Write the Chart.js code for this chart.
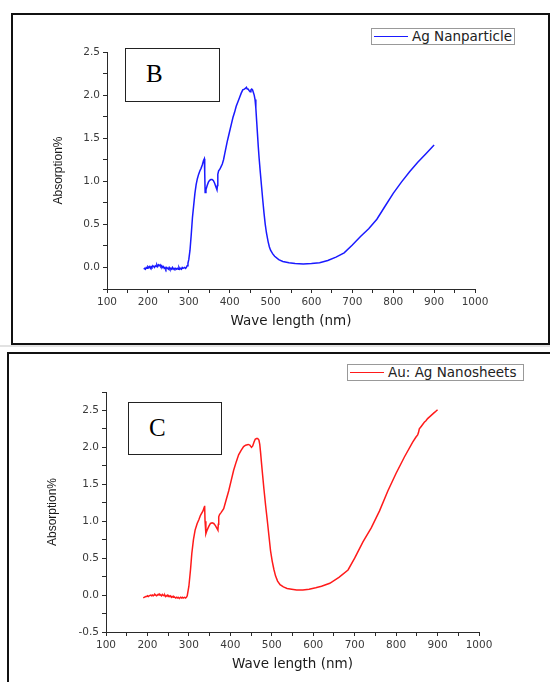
<!DOCTYPE html>
<html>
<head>
<meta charset="utf-8">
<script src="https://cdn.jsdelivr.net/npm/chart.js@4"></script>
<style>
  body { margin: 0; width: 550px; height: 682px; overflow: hidden; background: #fff; position: relative; }
  .frame { position: absolute; border: 2px solid #111; box-sizing: border-box; }
  .sep { position: absolute; left: 0; top: 345px; width: 550px; height: 2px; background: #e2e2e2; }
  canvas { position: absolute; left: 0; }
  .tag { position: absolute; border: 1px solid #222; box-sizing: border-box; background: #fff;
         font: 25px "Liberation Serif", "Times New Roman", serif; color: #000; }
  .tag span { position: absolute; left: 20px; top: 10px; line-height: 30px; }
  .legend { position: absolute; border: 1px solid #999; box-sizing: border-box; background: #fff;
            font: 13.5px "DejaVu Sans", sans-serif; color: #222; }
  .legend i { position: absolute; left: 2px; top: 7px; width: 34px; height: 1.2px; }
  .legend b { position: absolute; left: 40px; top: 0; font-weight: normal; line-height: 15px; white-space: nowrap; }
</style>
</head>
<body>
<div class="frame" style="left:11px;top:13px;width:539px;height:332px"></div>
<div class="sep"></div>
<div class="frame" style="left:7px;top:352px;width:560px;height:400px"></div>

<canvas id="agChart" width="550" height="345" style="top:0"></canvas>
<canvas id="auagChart" width="550" height="337" style="top:345px"></canvas>

<div class="tag" style="left:125px;top:48px;width:95px;height:54px"><span>B</span></div>
<div class="tag" style="left:128px;top:402px;width:94px;height:53px"><span>C</span></div>

<div class="legend" style="left:371px;top:28px;width:144px;height:17px">
  <i style="background:#1a1aff"></i><b>Ag Nanparticle</b>
</div>
<div class="legend" style="left:347px;top:364px;width:177px;height:17px">
  <i style="background:#ff1a1a"></i><b>Au: Ag Nanosheets</b>
</div>

<script>
// Ag nanoparticle spectrum
const agWavelength = [
  190, 192, 194, 196, 198, 200, 202, 204, 206, 208, 210, 212, 214, 216, 218, 220, 222, 224, 226, 228,
  230, 232, 234, 236, 238, 240, 242, 244, 246, 248, 250, 252, 254, 256, 258, 260, 262, 264, 266, 268,
  270, 272, 274, 276, 278, 280, 282, 284, 286, 288, 290, 292, 294, 296, 298,
  300, 303, 306, 309, 312, 315, 318, 321, 324, 327, 330, 333, 336, 338, 339, 340, 342, 345, 348, 351,
  354, 357, 360, 363, 366, 369, 370, 371, 373, 376, 379, 382, 385, 388, 391, 394, 397, 400, 404, 408,
  412, 416, 420, 424, 428, 432, 436, 439, 441, 443, 445, 448, 450, 452, 454, 456, 458, 460, 462, 464,
  466, 468, 470, 472, 475, 478, 481, 484, 487, 490, 494, 497, 500, 505, 510, 520, 530, 545, 560, 580,
  600, 620, 640, 660, 680, 700, 720, 740, 760, 780, 800, 820, 840, 860, 880, 900
];
const agAbsorption = [
  -0.02, -0.01, -0.02, 0.00, -0.01, 0.01, 0.00, 0.01, -0.01, 0.01, 0.00, 0.02, 0.01, 0.00, 0.02, 0.01, 0.03, 0.01, 0.03, 0.02,
  0.03, 0.01, 0.02, 0.00, 0.01, -0.01, 0.00, -0.02, 0.00, -0.01, -0.02, 0.00, -0.02, -0.01, -0.02, 0.00, -0.02, -0.01, -0.02, -0.01,
  -0.02, -0.01, -0.02, 0.00, -0.02, -0.01, -0.02, 0.00, -0.01, -0.01, 0.00, -0.01, 0.00, 0.02, 0.05,
  0.09, 0.20, 0.38, 0.58, 0.72, 0.86, 0.96, 1.03, 1.08, 1.12, 1.15, 1.19, 1.24, 1.26, 1.10, 0.87, 0.90, 0.95, 0.99, 1.01,
  1.02, 1.02, 1.01, 0.98, 0.94, 0.90, 0.95, 1.08, 1.12, 1.14, 1.17, 1.20, 1.25, 1.32, 1.39, 1.46, 1.52, 1.58, 1.66, 1.74,
  1.80, 1.87, 1.92, 1.97, 2.02, 2.06, 2.07, 2.08, 2.09, 2.07, 2.07, 2.05, 2.04, 2.06, 2.07, 2.06, 2.03, 2.00, 1.95, 1.85,
  1.70, 1.55, 1.40, 1.27, 1.10, 0.94, 0.78, 0.63, 0.50, 0.40, 0.30, 0.24, 0.20, 0.16, 0.13, 0.09, 0.07, 0.055, 0.045, 0.04,
  0.045, 0.055, 0.08, 0.12, 0.17, 0.26, 0.36, 0.45, 0.56, 0.71, 0.86, 0.99, 1.11, 1.22, 1.32, 1.42
];

// Au:Ag nanosheet spectrum
const auagWavelength = [
  190, 192, 194, 196, 198, 200, 202, 204, 206, 208, 210, 212, 214, 216, 218, 220, 222, 224, 226, 228,
  230, 232, 234, 236, 238, 240, 242, 244, 246, 248, 250, 252, 254, 256, 258, 260, 262, 264, 266, 268,
  270, 272, 274, 276, 278, 280, 282, 284, 286, 288, 290, 292, 294, 296,
  300, 304, 307, 311, 315, 320, 324, 328, 334, 337, 338, 339, 341, 344, 348, 352, 356, 360, 364, 368,
  370, 371, 372, 374, 378, 384, 390, 396, 402, 408, 414, 420, 426, 432, 437, 443, 447, 451, 454, 457,
  460, 463, 466, 469, 471, 473, 475, 478, 481, 485, 489, 493, 497, 501, 505, 509, 514, 520, 528, 537,
  548, 560, 575, 590, 606, 620, 640, 662, 684, 700, 720, 740, 760, 780, 800, 820, 840, 848, 852, 854,
  856, 860, 864, 868, 872, 876, 880, 884, 888, 892, 896, 900
];
const auagAbsorption = [
  -0.04, -0.03, -0.03, -0.02, -0.02, -0.01, -0.02, -0.01, -0.01, 0.00, -0.01, 0.00, -0.01, 0.00, 0.01, 0.00, -0.01, 0.00, 0.01, 0.00,
  0.01, 0.00, -0.01, 0.01, 0.00, -0.01, 0.00, -0.02, -0.01, 0.00, -0.02, -0.01, -0.02, -0.01, -0.03, -0.02, -0.03, -0.02, -0.03, -0.04,
  -0.03, -0.04, -0.03, -0.04, -0.04, -0.03, -0.04, -0.03, -0.04, -0.04, -0.03, -0.04, -0.03, -0.01,
  0.12, 0.35, 0.56, 0.75, 0.88, 0.97, 1.02, 1.08, 1.14, 1.19, 1.21, 1.00, 0.83, 0.88, 0.93, 0.97, 0.98, 0.97, 0.94, 0.90,
  0.88, 0.96, 1.06, 1.09, 1.12, 1.17, 1.29, 1.41, 1.55, 1.69, 1.80, 1.90, 1.96, 2.01, 2.03, 2.04, 2.03, 2.00, 2.02, 2.07,
  2.11, 2.12, 2.12, 2.10, 2.04, 1.93, 1.80, 1.62, 1.44, 1.22, 1.02, 0.81, 0.60, 0.46, 0.35, 0.26, 0.19, 0.14, 0.11, 0.09,
  0.08, 0.07, 0.07, 0.08, 0.10, 0.12, 0.16, 0.24, 0.34, 0.50, 0.72, 0.91, 1.14, 1.41, 1.65, 1.87, 2.07, 2.14, 2.17, 2.20,
  2.25, 2.28, 2.31, 2.34, 2.36, 2.39, 2.41, 2.43, 2.45, 2.47, 2.49, 2.51
];

// axis ranges and label steps
const xTicksMajor = 100;
const xRange = [100, 1000];
const agYRange = [-0.25, 2.5];
const auagYRange = [-0.5, 2.75];

const tickFont = { family: 'DejaVu Sans', size: 10.5 };
const axisColor = '#2a2a2a';

function toPoints(xs, ys) {
  return xs.map((x, i) => ({ x: x, y: ys[i] }));
}

function buildChart(id, xs, ys, color, label, yRange, box) {
  return new Chart(document.getElementById(id), {
    type: 'line',
    data: {
      datasets: [{
        label: label,
        data: toPoints(xs, ys),
        borderColor: color,
        borderWidth: 1.5,
        pointRadius: 0,
        tension: 0,
        fill: false
      }]
    },
    options: {
      responsive: false,
      animation: false,
      devicePixelRatio: 1,
      layout: { padding: { left: 0, top: box.top, right: box.right, bottom: 0 } },
      plugins: { legend: { display: false }, tooltip: { enabled: false } },
      scales: {
        x: {
          type: 'linear',
          min: xRange[0],
          max: xRange[1],
          afterFit: s => { s.height = box.xHeight; },
          border: { color: axisColor, width: 1 },
          grid: { drawOnChartArea: false, tickLength: 4, tickColor: axisColor },
          ticks: {
            stepSize: xTicksMajor / 2,
            autoSkip: false,
            maxRotation: 0,
            padding: 3,
            color: '#3a3a3a',
            font: tickFont,
            callback: v => (v % xTicksMajor === 0 ? String(v) : '')
          },
          title: {
            display: true,
            text: 'Wave length (nm)',
            color: '#1a1a1a',
            font: { family: 'DejaVu Sans', size: 13.5 },
            padding: { top: 0, bottom: box.xTitlePad }
          }
        },
        y: {
          min: yRange[0],
          max: yRange[1],
          afterFit: s => { s.width = box.yWidth; },
          border: { color: axisColor, width: 1 },
          grid: { drawOnChartArea: false, tickLength: 4, tickColor: axisColor },
          ticks: {
            stepSize: 0.25,
            autoSkip: false,
            padding: 3,
            color: '#3a3a3a',
            font: tickFont,
            callback: v => {
              const r = Math.round(v * 100);
              return r % 50 === 0 ? (r / 100).toFixed(1) : '';
            }
          },
          title: {
            display: true,
            text: 'Absorption%',
            color: '#1a1a1a',
            font: { family: 'Liberation Sans', size: 12 },
            padding: { top: box.yTitlePad, bottom: 0 }
          }
        }
      }
    }
  });
}

buildChart('agChart', agWavelength, agAbsorption, '#1a1aff', 'Ag Nanparticle', agYRange,
  { top: 52, right: 75, xHeight: 56, yWidth: 107, xTitlePad: 15, yTitlePad: 51 });

buildChart('auagChart', auagWavelength, auagAbsorption, '#ff1a1a', 'Au: Ag Nanosheets', auagYRange,
  { top: 47, right: 71, xHeight: 50, yWidth: 106, xTitlePad: 9, yTitlePad: 45 });
</script>
</body>
</html>
